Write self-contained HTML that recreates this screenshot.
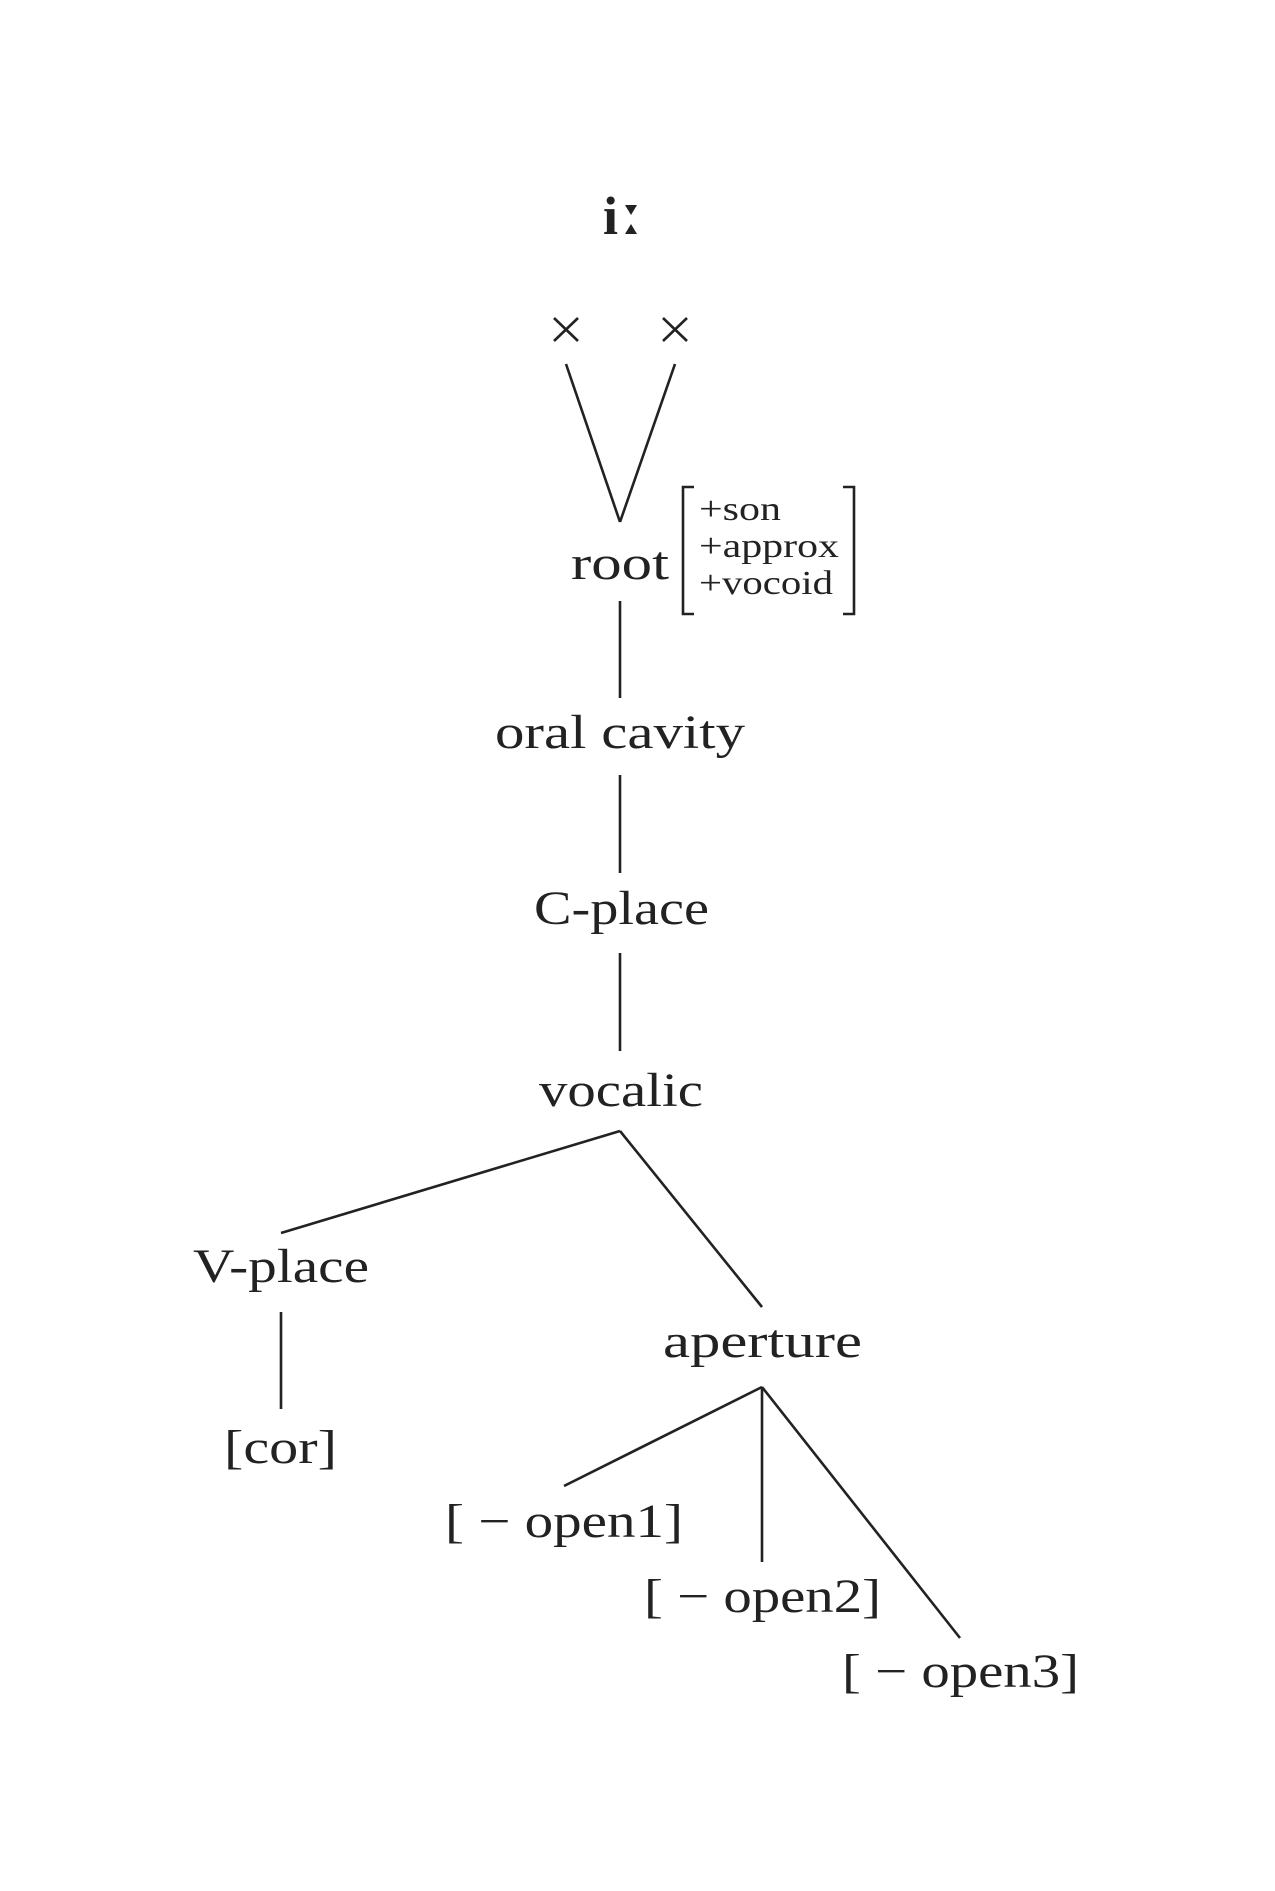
<!DOCTYPE html>
<html><head><meta charset="utf-8"><style>
html,body{margin:0;padding:0;background:#fff;}
svg{display:block;}
text{font-family:"Liberation Serif",serif;fill:#222;}
</style></head><body>
<svg width="1275" height="1891" viewBox="0 0 1275 1891" xmlns="http://www.w3.org/2000/svg">
<g transform="translate(-4,-4)">
<g stroke="#222" stroke-width="2.6" fill="none">
<line x1="570" y1="368" x2="624" y2="526"/>
<line x1="679" y1="368" x2="624" y2="526"/>
<line x1="624" y1="605" x2="624" y2="702"/>
<line x1="624" y1="779" x2="624" y2="877"/>
<line x1="624" y1="957" x2="624" y2="1055"/>
<line x1="624" y1="1135" x2="285" y2="1237"/>
<line x1="624" y1="1135" x2="766" y2="1311"/>
<line x1="285" y1="1316" x2="285" y2="1413"/>
<line x1="766" y1="1391" x2="568" y2="1490"/>
<line x1="766" y1="1391" x2="766" y2="1566"/>
<line x1="766" y1="1391" x2="964" y2="1642"/>
<polyline points="698,491 687,491 687,618 698,618"/>
<polyline points="847,491 858,491 858,618 847,618"/>
<line x1="558" y1="322" x2="582" y2="345"/>
<line x1="582" y1="322" x2="558" y2="345"/>
<line x1="667" y1="322" x2="691" y2="345"/>
<line x1="691" y1="322" x2="667" y2="345"/>
</g>
<text x="607" y="238" font-size="54" font-weight="bold">i</text>
<polygon points="629,209 641,209 635,219" fill="#222"/>
<polygon points="629,238 641,238 635,228" fill="#222"/>
<text x="575" y="583" font-size="48" textLength="98" lengthAdjust="spacingAndGlyphs">root</text>
<text x="703" y="524" font-size="34" textLength="82" lengthAdjust="spacingAndGlyphs">+son</text>
<text x="703" y="561" font-size="34" textLength="140" lengthAdjust="spacingAndGlyphs">+approx</text>
<text x="703" y="598" font-size="34" textLength="134" lengthAdjust="spacingAndGlyphs">+vocoid</text>
<text x="499" y="752" font-size="48" textLength="250" lengthAdjust="spacingAndGlyphs">oral cavity</text>
<text x="538" y="928" font-size="48" textLength="175" lengthAdjust="spacingAndGlyphs">C-place</text>
<text x="543" y="1110" font-size="48" textLength="164" lengthAdjust="spacingAndGlyphs">vocalic</text>
<text x="197" y="1286" font-size="48" textLength="176" lengthAdjust="spacingAndGlyphs">V-place</text>
<text x="667" y="1361" font-size="48" textLength="199" lengthAdjust="spacingAndGlyphs">aperture</text>
<text x="228" y="1467" font-size="48" textLength="113" lengthAdjust="spacingAndGlyphs">[cor]</text>
<text x="449" y="1541" font-size="48" textLength="238" lengthAdjust="spacingAndGlyphs">[ − open1]</text>
<text x="648" y="1616" font-size="48" textLength="237" lengthAdjust="spacingAndGlyphs">[ − open2]</text>
<text x="846" y="1691" font-size="48" textLength="237" lengthAdjust="spacingAndGlyphs">[ − open3]</text>
</g>
</svg>
</body></html>
